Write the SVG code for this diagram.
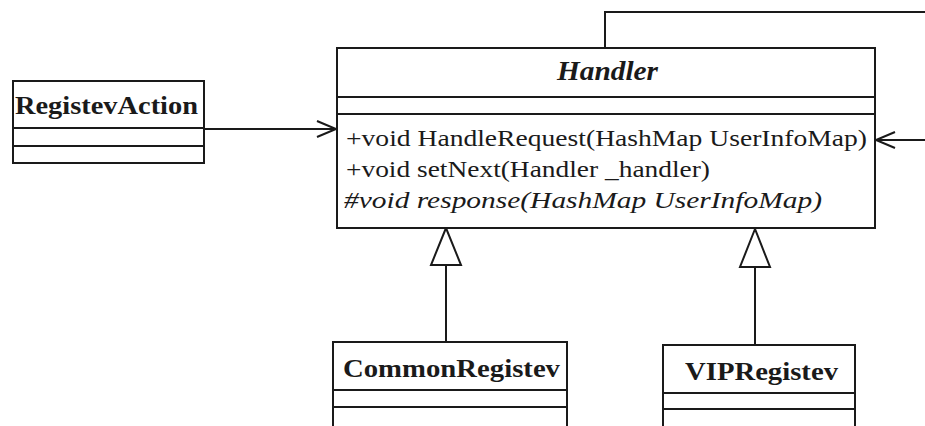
<svg xmlns="http://www.w3.org/2000/svg" width="925" height="426" viewBox="0 0 925 426">
<style>
.box{fill:#fff;stroke:#1a1a1a;stroke-width:2}
.ln{stroke:#1a1a1a;stroke-width:2;fill:none}
.cls{font-family:"Liberation Serif","Times New Roman",serif;font-weight:bold;font-size:26px;fill:#1a1a1a}
.abs{font-family:"Liberation Serif","Times New Roman",serif;font-weight:bold;font-style:italic;font-size:27px;fill:#1a1a1a}
.op{font-family:"Liberation Serif","Times New Roman",serif;font-size:23px;fill:#1a1a1a}
.opi{font-family:"Liberation Serif","Times New Roman",serif;font-style:italic;font-size:23px;fill:#1a1a1a}
</style>
<defs>
<marker id="open" markerWidth="22" markerHeight="20" refX="20" refY="10" orient="auto" markerUnits="userSpaceOnUse">
<path d="M1,2 L20,10 L1,18" fill="none" stroke="#1a1a1a" stroke-width="2"/>
</marker>
</defs>
<g id="connectors">
<line class="ln" x1="204" y1="129" x2="336" y2="129" marker-end="url(#open)"/>
<polyline class="ln" points="605,48 605,12 925,12"/>
<line class="ln" x1="925" y1="140" x2="876" y2="140" marker-end="url(#open)"/>
<line class="ln" x1="446" y1="265" x2="446" y2="342"/>
<polygon class="box" points="446,228 431,265 461,265"/>
<line class="ln" x1="755" y1="267" x2="755" y2="345"/>
<polygon class="box" points="755,229 740,267 770,267"/>
</g>
<g id="RegistevAction">
<rect class="box" x="13" y="81" width="191" height="82"/>
<line class="ln" x1="13" y1="128" x2="204" y2="128"/>
<line class="ln" x1="13" y1="146" x2="204" y2="146"/>
<text class="cls" x="15" y="114" textLength="183" lengthAdjust="spacingAndGlyphs">RegistevAction</text>
</g>
<g id="Handler">
<rect class="box" x="337" y="48" width="538" height="180"/>
<line class="ln" x1="337" y1="97" x2="875" y2="97"/>
<line class="ln" x1="337" y1="114" x2="875" y2="114"/>
<text class="abs" x="557" y="80" textLength="101" lengthAdjust="spacingAndGlyphs">Handler</text>
<text class="op" x="346" y="146" textLength="521" lengthAdjust="spacingAndGlyphs">+void HandleRequest(HashMap UserInfoMap)</text>
<text class="op" x="346" y="177" textLength="364" lengthAdjust="spacingAndGlyphs">+void setNext(Handler _handler)</text>
<text class="opi" x="344" y="208" textLength="478" lengthAdjust="spacingAndGlyphs">#void response(HashMap UserInfoMap)</text>
</g>
<g id="CommonRegistev">
<rect class="box" x="333" y="342" width="234" height="90"/>
<line class="ln" x1="333" y1="390" x2="567" y2="390"/>
<line class="ln" x1="333" y1="407" x2="567" y2="407"/>
<text class="cls" x="343" y="377" textLength="217" lengthAdjust="spacingAndGlyphs">CommonRegistev</text>
</g>
<g id="VIPRegistev">
<rect class="box" x="663" y="345" width="192" height="90"/>
<line class="ln" x1="663" y1="393" x2="855" y2="393"/>
<line class="ln" x1="663" y1="409" x2="855" y2="409"/>
<text class="cls" x="685" y="380" textLength="153" lengthAdjust="spacingAndGlyphs">VIPRegistev</text>
</g>
</svg>
